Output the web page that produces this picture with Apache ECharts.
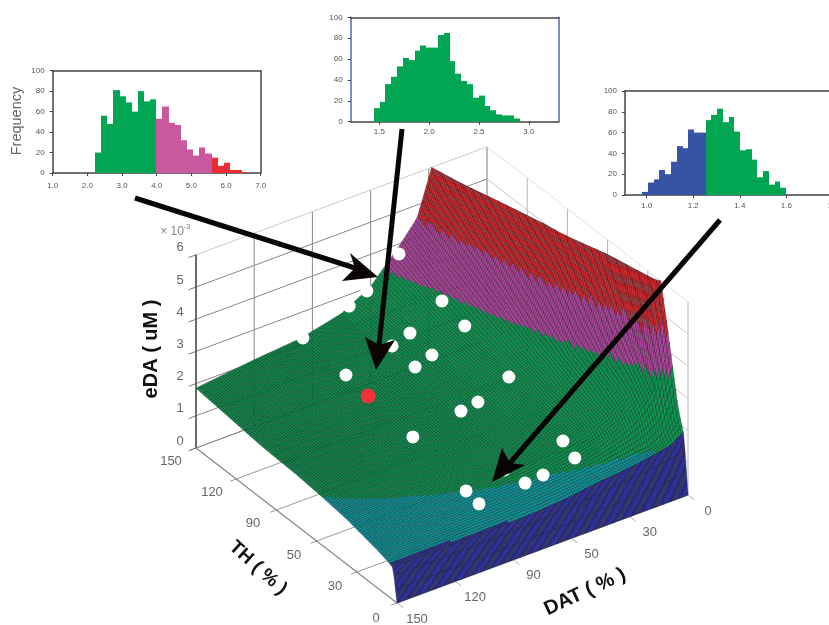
<!DOCTYPE html>
<html><head><meta charset="utf-8">
<style>html,body{margin:0;padding:0;background:#fff}#c{width:829px;height:625px}</style>
<script src="https://cdn.jsdelivr.net/npm/echarts@6/dist/echarts.min.js"></script>
</head><body><div id="c"></div>
<script>
// ---------- histogram data ----------
var h1Start = 2.22, h1Width = 0.177;
var h1Green = [20,56,48,81,75,69,60,80,70,72];
var h1Magenta = [53,65,49,47,32,23,17,25,19];
var h1Red = [15,7,10,3,3,1];
var h2Start = 1.443, h2Width = 0.0586;
var h2Green = [13,19,36,43,53,61,59,68,73,71,71,83,85,58,46,39,36,23,25,15,11,7,6,6,3];
var h3Start = 0.981, h3Width = 0.0247;
var h3Blue = [3,12,15,24,20,32,47,45,63,60,60];
var h3Green = [72,77,83,70,75,61,43,44,34,17,23,10,13,7];

// ---------- 3D surface: eDA (x10^-3 uM) ----------
var axisTicks = ['0','30','50','90','120','150'];   // equally spaced on both floor axes
var zTicks = [0,1,2,3,4,5,6];
var thPos  = [0,.02,.05,.1,.15,.25,.37,.5,.67,.8,1];        // fraction along TH axis
var datPos = [0,.2,.36,.5,.6,.7,.76,.81,.85,.9,.95,1];      // fraction along DAT axis (0 = DAT 150, 1 = DAT 0)
var z00 = [0,0,0,0,0,0,0,0,0,0,0,0];
var z02 = [1.0,1.0,1.0,1.05,1.12,1.25,1.3,1.35,1.4,1.48,1.55,1.75];
var z05 = [1.08,1.1,1.15,1.2,1.27,1.35,1.4,1.43,1.47,1.5,1.7,2.5];
var z10 = [1.18,1.25,1.33,1.42,1.5,1.65,1.78,1.95,2.1,2.4,2.9,4.6];
var z15 = [1.25,1.35,1.48,1.62,1.75,1.95,2.1,2.3,2.5,2.85,3.3,6.6];
var z25 = [1.4,1.52,1.68,1.85,2.0,2.2,2.4,2.6,2.9,3.3,4.5,8];
var z37 = [1.5,1.65,1.82,2.0,2.2,2.5,2.7,3.0,3.3,4.3,6.1,9];
var z50 = [1.58,1.72,1.92,2.15,2.4,2.75,3.05,3.4,4.2,5.5,7.5,10];
var z67 = [1.63,1.8,2.0,2.3,2.6,3.0,3.55,4.25,5.1,6.6,8.5,11];
var z80 = [1.72,1.9,2.1,2.4,2.75,3.3,4.0,4.85,6,7.5,9.5,12];
var z100 = [1.86,2.07,2.2,2.5,3.0,3.95,4.6,6,7.5,9,11,13];
var zTable = [z00,z02,z05,z10,z15,z25,z37,z50,z67,z80,z100];
var zBands = [1.05,1.5,3.4,4.6];
var bandColors = ['#2e3192','#0aa0a6','#0a9a52','#b0459f','#cf2a30'];

// experimental points on the surface: [thFrac, datFrac, z]
var whitePoints = [[.928,.648,4.2],[.959,.559,3.2],[.978,.511,2.8],[.998,.366,2.2],[.781,.364,2.1],[.763,.51,2.6],
 [.762,.571,2.8],[.794,.703,3.2],[.676,.7,3.0],[.673,.585,2.5],[.676,.529,2.3],[.467,.707,2.4],[.45,.589,2.1],
 [.452,.532,2.0],[.445,.362,1.8],[.185,.698,1.8],[.12,.694,1.6],[.097,.569,1.6],[.091,.503,1.6],[.168,.484,1.7],
 [.166,.352,1.5],[.103,.353,1.4]];
var redPoints = [[.668,.362,2.0]];

// annotation arrows: tail, tip, wing, notch, wing (page positions)
var arrows = [
 [[135,198],[378,277],[350,253],[355,268],[342,281]],
 [[402,129],[376,370],[365,337],[379,345],[395,340]],
 [[720,220],[492,482],[502,448],[510,463],[525,465]]
];

// ---------- projection ----------
var O=[397,603], L=[196,448], R=[688,495], zUnit=32.2;
function project(u,v,z){
  return [O[0]+u*(L[0]-O[0])+v*(R[0]-O[0]), O[1]+u*(L[1]-O[1])+v*(R[1]-O[1])-z*zUnit];
}
function seg(arr,t){var i=0;while(i<arr.length-2&&t>arr[i+1])i++;return [i,(t-arr[i])/(arr[i+1]-arr[i])];}
function zAt(u,v){
  var a=seg(thPos,u),b=seg(datPos,v),i=a[0],j=b[0],s=a[1],t=b[1];
  return (1-s)*(1-t)*zTable[i][j]+s*(1-t)*zTable[i+1][j]+(1-s)*t*zTable[i][j+1]+s*t*zTable[i+1][j+1];
}
function bandColor(z){var k=0;while(k<zBands.length&&z>=zBands[k])k++;return bandColors[k];}
function clipTop(pts){ // pts [u,v,z]; keep z<=6
  var out=[],n=pts.length;
  for(var i=0;i<n;i++){var a=pts[i],b=pts[(i+1)%n];
    if(a[2]<=6)out.push(a);
    if((a[2]<=6)!==(b[2]<=6)){var t=(6-a[2])/(b[2]-a[2]);
      out.push([a[0]+t*(b[0]-a[0]),a[1]+t*(b[1]-a[1]),6]);}
  }
  return out;
}

// surface mesh cells (far to near)
var meshN=130, cells=[];
for(var iu=meshN-1;iu>=0;iu--)for(var iv=meshN-1;iv>=0;iv--)cells.push([iu,iv]);

function surfaceItem(params,api){
  var iu=api.value(0),iv=api.value(1),d=1/meshN;
  var u0=iu*d,u1=(iu+1)*d,v0=iv*d,v1=(iv+1)*d;
  var q=[[u0,v0],[u1,v0],[u1,v1],[u0,v1]].map(function(p){return [p[0],p[1],zAt(p[0],p[1])];});
  var avg=(q[0][2]+q[1][2]+q[2][2]+q[3][2])/4;
  var c=clipTop(q);
  if(c.length<3)return null;
  var pts=c.map(function(p){return api.coord(project(p[0],p[1],p[2]));});
  var fill=u0<thPos[1]-1e-6?bandColors[0]:bandColor(Math.min(avg,5.9));
  return {type:'polygon',shape:{points:pts},style:{fill:fill,stroke:'rgba(0,0,0,.5)',lineWidth:.6}};
}

// box lines: [[u,v,z],[u,v,z],color,width]
var N=axisTicks.length-1, boxLines=[];
function addLine(a,b,c,w){boxLines.push([a,b,c,w]);}
for(var k=0;k<=N;k++){
  var f=k/N;
  addLine([f,0,0],[f,1,0],'#999',1);           // floor, constant TH
  addLine([1,f,0],[1,f,6],'#888',1);           // TH=150 wall verticals
  addLine([f,1,0],[f,1,6],'#b4b4b4',1);        // DAT=0 wall verticals
  addLine([f,0,0],[f,-.02,0],'#999',1);        // tick on TH edge
  addLine([0,f,0],[-.03,f,0],'#aaa',1);        // tick on DAT edge
}
zTicks.forEach(function(z){
  addLine([1,0,z],[1,1,z],z===6?'#ccc':'#888',1);
  addLine([1,1,z],[0,1,z],z===6?'#e2e2e2':'#cacaca',1);
  addLine([1,0,z],[1,-.025,z],'#777',1);
});
addLine([1,0,0],[1,0,6],'#555',1.6);
addLine([1,0,0],[0,0,0],'#888',1.2);
addLine([0,0,0],[0,1,0],'#999',1.2);

function boxItem(params,api){
  var l=boxLines[api.value(0)];
  var a=api.coord(project.apply(null,l[0])),b=api.coord(project.apply(null,l[1]));
  return {type:'line',shape:{x1:a[0],y1:a[1],x2:b[0],y2:b[1]},style:{stroke:l[2],lineWidth:l[3]}};
}

// text labels in page position
var labels=[];
axisTicks.forEach(function(t,k){
  var f=k/N;
  var pd=project(0,1-f,0); labels.push([t,pd[0]+20,pd[1]+16,'#666',13,'normal',0]);
  var pt=project(f,0,0);   labels.push([t,pt[0]-21-4*f,pt[1]+15-2*f,'#666',13,'normal',0]);
});
zTicks.forEach(function(z){var p=project(1,0,z);labels.push([String(z),p[0]-16,p[1]-7,'#666',13,'normal',0]);});
labels.push(['× 10',172,232,'#888',12,'normal',0]);
labels.push(['-3',187,227,'#888',8,'normal',0]);
labels.push(['eDA ( uM )',151,349,'#111',20,'bold',Math.PI/2]);
labels.push(['TH ( % )',258,568,'#111',19,'bold',-42*Math.PI/180]);
labels.push(['DAT ( % )',585,592,'#111',20,'bold',25*Math.PI/180]);
labels.push(['Frequency',17,121,'#666',14.5,'normal',Math.PI/2]);

function labelItem(params,api){
  var l=labels[api.value(0)],p=api.coord([l[1],l[2]]);
  return {type:'text',x:p[0],y:p[1],rotation:l[6],style:{text:l[0],fill:l[3],font:l[5]+' '+l[4]+'px "Liberation Sans"',align:'center',verticalAlign:'middle'}};
}
function arrowItem(params,api){
  var a=arrows[api.value(0)],C=function(p){return api.coord(p);};
  return {type:'group',children:[
    {type:'line',shape:{x1:C(a[0])[0],y1:C(a[0])[1],x2:C(a[3])[0],y2:C(a[3])[1]},style:{stroke:'#0a0505',lineWidth:5}},
    {type:'polygon',shape:{points:[C(a[1]),C(a[2]),C(a[3]),C(a[4])]},style:{fill:'#0a0505'}}
  ]};
}
function idx(arr){return arr.map(function(_,i){return [i];});}

// ---------- histograms ----------
function histSeries(gi,start,width,offset,vals,color,yi){
  var data=vals.map(function(v,i){var a=start+(offset+i)*width;return [a,a+width,v];});
  return {type:'custom',xAxisIndex:gi,yAxisIndex:yi,data:data,silent:true,animation:false,z:5,
    encode:{x:[0,1],y:2},clip:false,
    renderItem:function(p,api){
      var a=api.coord([api.value(0),api.value(2)]),b=api.coord([api.value(1),0]);
      var x0=Math.round(a[0]),x1=Math.round(b[0]);
      return {type:'rect',shape:{x:x0,y:a[1],width:x1-x0,height:b[1]-a[1]},style:{fill:color}};
    }};
}
var tick={show:true,length:3,lineStyle:{color:'#444',width:1}};
var lab={fontSize:8,color:'#555',fontFamily:'Liberation Sans'};
function xAx(gi,min,max,vals,margin){
  return {type:'value',gridIndex:gi,min:min,max:max,splitLine:{show:false},
   axisLine:{show:true,lineStyle:{color:'#444',width:1.5}},
   axisTick:Object.assign({},tick,{customValues:vals}),
   axisLabel:Object.assign({},lab,{margin:margin,customValues:vals,formatter:function(v){return v.toFixed(1);}})};
}
function yAx(gi,color,margin){
  return {type:'value',gridIndex:gi,min:0,max:100,interval:20,splitLine:{show:false},
   axisLine:{show:true,lineStyle:{color:color,width:1.5}},axisTick:tick,
   axisLabel:Object.assign({},lab,{margin:margin})};
}
function yRight(gi,color){
  return {type:'value',gridIndex:gi,position:'right',min:0,max:100,interval:20,splitLine:{show:false},
   axisLine:{show:true,onZero:false,lineStyle:{color:color,width:1.5}},axisTick:{show:false},axisLabel:{show:false}};
}
function xTop(gi,min,max){
  return {type:'value',gridIndex:gi,position:'top',min:min,max:max,splitLine:{show:false},
   axisLine:{show:true,onZero:false,lineStyle:{color:'#444',width:1.5}},axisTick:{show:false},axisLabel:{show:false}};
}

var option={
 animation:false,backgroundColor:'#fff',
 grid:[
  {left:0,top:0,width:829,height:625,show:false,outerBoundsMode:'none'},
  {left:52.7,top:70.7,width:208,height:102.3,outerBoundsMode:'none'},
  {left:350.7,top:17.3,width:208,height:104.4,outerBoundsMode:'none'},
  {left:625,top:91,width:208,height:104,outerBoundsMode:'none'}
 ],
 xAxis:[
  {type:'value',gridIndex:0,min:0,max:829,show:false},
  xAx(1,1,7,[1,2,3,4,5,6,7],9),
  xAx(2,1.212,3.3,[1.5,2,2.5,3],6),
  xAx(3,.907,1.8,[1,1.2,1.4,1.6,1.8],7),
  xTop(1,1,7),xTop(2,1.212,3.3),xTop(3,.907,1.8)
 ],
 yAxis:[
  {type:'value',gridIndex:0,min:0,max:625,inverse:true,show:false},
  yAx(1,'#444',8),yAx(2,'#5566bb',8),yAx(3,'#444',8),
  yRight(1,'#444'),yRight(2,'#5566bb')
 ],
 series:[
  {type:'custom',xAxisIndex:0,yAxisIndex:0,data:idx(boxLines),renderItem:boxItem,silent:true,clip:false,z:1,animation:false,progressive:0},
  {type:'custom',xAxisIndex:0,yAxisIndex:0,data:cells,renderItem:surfaceItem,silent:true,clip:false,z:2,animation:false,progressive:0,encode:{x:0,y:1}},
  {type:'scatter',xAxisIndex:0,yAxisIndex:0,data:whitePoints.map(function(p){return project(p[0],p[1],p[2]);}),symbolSize:13,itemStyle:{color:'#fff',opacity:1},silent:true,z:3,animation:false},
  {type:'scatter',xAxisIndex:0,yAxisIndex:0,data:redPoints.map(function(p){return project(p[0],p[1],p[2]);}),symbolSize:15,itemStyle:{color:'#f0323c',opacity:1},silent:true,z:3,animation:false},
  {type:'custom',xAxisIndex:0,yAxisIndex:0,data:idx(labels),renderItem:labelItem,silent:true,clip:false,z:6,animation:false,progressive:0},
  histSeries(1,h1Start,h1Width,0,h1Green,'#00a651',1),
  histSeries(1,h1Start,h1Width,h1Green.length,h1Magenta,'#c9589f',1),
  histSeries(1,h1Start,h1Width,h1Green.length+h1Magenta.length,h1Red,'#ed2b35',1),
  histSeries(2,h2Start,h2Width,0,h2Green,'#00a651',2),
  histSeries(3,h3Start,h3Width,0,h3Blue,'#3953a4',3),
  histSeries(3,h3Start,h3Width,h3Blue.length,h3Green,'#00a651',3),
  {type:'custom',xAxisIndex:0,yAxisIndex:0,data:idx(arrows),renderItem:arrowItem,silent:true,clip:false,z:7,animation:false}
 ]
};
echarts.init(document.getElementById('c'),null,{renderer:'canvas'}).setOption(option);
</script></body></html>
